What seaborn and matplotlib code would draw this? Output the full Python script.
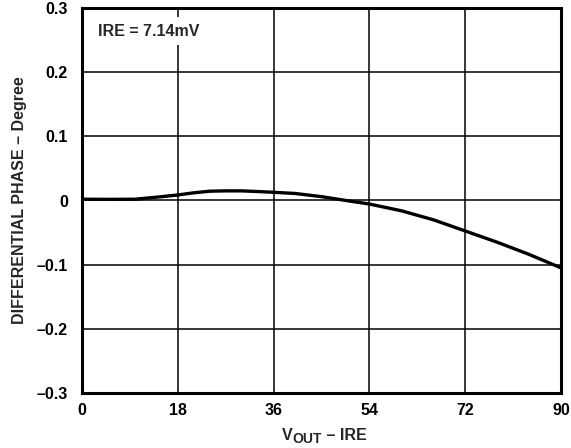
import matplotlib
matplotlib.use("Agg")
import matplotlib.pyplot as plt
import seaborn as sns
import pandas as pd

# Data
vout_ire = [0, 5, 10, 15, 18, 21, 24, 27, 30, 33, 36, 40, 45, 50, 54, 60, 66, 72, 78, 84, 90]
diff_phase = [0.002, 0.0018, 0.002, 0.006, 0.0086, 0.012, 0.0145, 0.015, 0.015, 0.014,
              0.0128, 0.011, 0.006, -0.0005, -0.0055, -0.016, -0.030, -0.0475, -0.065,
              -0.084, -0.105]
x_ticks = [0, 18, 36, 54, 72, 90]
x_tick_labels = ["0", "18", "36", "54", "72", "90"]
y_ticks = [-0.3, -0.2, -0.1, 0, 0.1, 0.2, 0.3]
y_tick_labels = ["\u20130.3", "\u20130.2", "\u20130.1", "0", "0.1", "0.2", "0.3"]

sns.set_theme(style="white")
plt.rcParams["font.family"] = ["Liberation Sans", "DejaVu Sans"]
plt.rcParams["font.weight"] = "bold"

fig = plt.figure(figsize=(5.71, 4.48), dpi=100)
ax = fig.add_axes([82 / 571, 55 / 448, (561 - 82) / 571, (393 - 8) / 448])

df = pd.DataFrame({"x": vout_ire, "y": diff_phase})
sns.lineplot(data=df, x="x", y="y", ax=ax, color="black", linewidth=2.4, zorder=3)

ax.set_xlim(0, 90)
ax.set_ylim(-0.3, 0.3)
ax.set_xticks(x_ticks)
ax.set_xticklabels(x_tick_labels, fontsize=11.5, fontweight="bold")
ax.set_yticks(y_ticks)
ax.set_yticklabels(y_tick_labels, fontsize=11.5, fontweight="bold")
ax.tick_params(axis="both", length=0, colors="black")
ax.tick_params(axis="y", pad=10)
ax.tick_params(axis="x", pad=7)

ax.grid(True, color="black", linewidth=1.1)
ax.set_axisbelow(True)
for s in ax.spines.values():
    s.set_visible(True)
    s.set_color("black")
    s.set_linewidth(2.2)

ax.set_xlabel("")
ax.set_ylabel("DIFFERENTIAL PHASE \u2013 Degree", fontsize=11.5, fontweight="bold", labelpad=7)

# x-axis label built from pieces so the subscript stays large, as in the reference
t1 = fig.text(282 / 571, 5 / 448, "V", fontsize=11.5, fontweight="bold",
              ha="left", va="bottom")
t2 = ax.annotate("OUT", xy=(1, 0), xycoords=t1, xytext=(0, -2.5),
                 textcoords="offset pixels", fontsize=10, fontweight="bold",
                 ha="left", va="bottom", annotation_clip=False)
t3 = ax.annotate(" \u2013 IRE", xy=(1, 0), xycoords=(t2, t1), fontsize=11.5,
                 fontweight="bold", ha="left", va="bottom", annotation_clip=False)

ax.text(3, 0.264, "IRE = 7.14mV", fontsize=11.5, fontweight="bold", ha="left", va="center",
        bbox=dict(facecolor="white", edgecolor="none", pad=5), zorder=4)

fig.savefig("out.png", dpi=100, facecolor="white")
